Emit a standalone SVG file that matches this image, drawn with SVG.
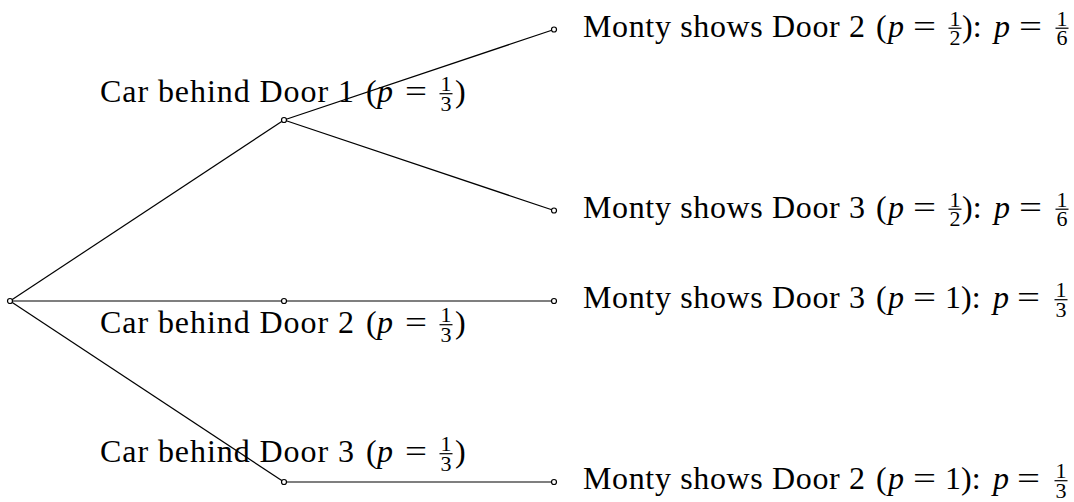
<svg xmlns="http://www.w3.org/2000/svg" width="1074" height="502" viewBox="0 0 1074 502">
<style>
text{font-family:"Liberation Serif","Times New Roman",serif;fill:#000}
.t{font-size:32px}
.i{font-size:32px;font-style:italic}
.s{font-size:22px;text-anchor:middle}
.bar{stroke:#000;stroke-width:1.2}
.edge{stroke:#000;stroke-width:1.2;fill:none}
.dot{fill:#fff;stroke:#000;stroke-width:1.2}
</style>
<rect width="1074" height="502" fill="#fff"/>
<g id="connectors">
<line class="edge" x1="10" y1="301" x2="284" y2="120"/>
<line class="edge" x1="10" y1="301" x2="284" y2="301"/>
<line class="edge" x1="10" y1="301" x2="284" y2="482"/>
<line class="edge" x1="284" y1="120" x2="554" y2="29.5"/>
<line class="edge" x1="284" y1="120" x2="554" y2="210.5"/>
<line class="edge" x1="284" y1="301" x2="554" y2="301"/>
<line class="edge" x1="284" y1="482" x2="554" y2="482"/>
</g>
<g id="root"><circle class="dot" cx="10" cy="301" r="2.5"/></g>
<g id="door1">
<circle class="dot" cx="284" cy="120" r="2.5"/>
<text class="t" x="100" y="102" textLength="254">Car behind Door 1</text>
<text class="t" x="366" y="102">(</text><text class="i" x="377" y="102">p</text>
<text class="t" x="405" y="102" textLength="22" lengthAdjust="spacingAndGlyphs">=</text>
<text class="s" x="446" y="91">1</text><line class="bar" x1="439.5" x2="452.5" y1="93.7" y2="93.7"/><text class="s" x="446" y="110.5">3</text>
<text class="t" x="455" y="102">)</text>
</g>
<g id="door2">
<circle class="dot" cx="284" cy="301" r="2.5"/>
<text class="t" x="100" y="333" textLength="254">Car behind Door 2</text>
<text class="t" x="366" y="333">(</text><text class="i" x="377" y="333">p</text>
<text class="t" x="405" y="333" textLength="22" lengthAdjust="spacingAndGlyphs">=</text>
<text class="s" x="446" y="322">1</text><line class="bar" x1="439.5" x2="452.5" y1="324.7" y2="324.7"/><text class="s" x="446" y="341.5">3</text>
<text class="t" x="455" y="333">)</text>
</g>
<g id="door3">
<circle class="dot" cx="284" cy="482" r="2.5"/>
<text class="t" x="100" y="462" textLength="254">Car behind Door 3</text>
<text class="t" x="366" y="462">(</text><text class="i" x="377" y="462">p</text>
<text class="t" x="405" y="462" textLength="22" lengthAdjust="spacingAndGlyphs">=</text>
<text class="s" x="446" y="451">1</text><line class="bar" x1="439.5" x2="452.5" y1="453.7" y2="453.7"/><text class="s" x="446" y="470.5">3</text>
<text class="t" x="455" y="462">)</text>
</g>
<g id="leaf1">
<circle class="dot" cx="554" cy="29.5" r="2.5"/>
<text class="t" x="583" y="36.5" textLength="282">Monty shows Door 2</text>
<text class="t" x="876" y="36.5">(</text><text class="i" x="888" y="36.5">p</text>
<text class="t" x="913" y="36.5" textLength="23" lengthAdjust="spacingAndGlyphs">=</text>
<text class="s" x="955" y="25.5">1</text><line class="bar" x1="948.5" x2="961.5" y1="28.2" y2="28.2"/><text class="s" x="955" y="45">2</text>
<text class="t" x="962" y="36.5">):</text>
<text class="i" x="994" y="36.5">p</text>
<text class="t" x="1019" y="36.5" textLength="23" lengthAdjust="spacingAndGlyphs">=</text>
<text class="s" x="1062" y="25.5">1</text><line class="bar" x1="1055.5" x2="1068.5" y1="28.2" y2="28.2"/><text class="s" x="1062" y="45">6</text>
</g>
<g id="leaf2">
<circle class="dot" cx="554" cy="210.5" r="2.5"/>
<text class="t" x="583" y="217.5" textLength="282">Monty shows Door 3</text>
<text class="t" x="876" y="217.5">(</text><text class="i" x="888" y="217.5">p</text>
<text class="t" x="913" y="217.5" textLength="23" lengthAdjust="spacingAndGlyphs">=</text>
<text class="s" x="955" y="206.5">1</text><line class="bar" x1="948.5" x2="961.5" y1="209.2" y2="209.2"/><text class="s" x="955" y="226">2</text>
<text class="t" x="962" y="217.5">):</text>
<text class="i" x="994" y="217.5">p</text>
<text class="t" x="1019" y="217.5" textLength="23" lengthAdjust="spacingAndGlyphs">=</text>
<text class="s" x="1062" y="206.5">1</text><line class="bar" x1="1055.5" x2="1068.5" y1="209.2" y2="209.2"/><text class="s" x="1062" y="226">6</text>
</g>
<g id="leaf3">
<circle class="dot" cx="554" cy="301" r="2.5"/>
<text class="t" x="583" y="308" textLength="282">Monty shows Door 3</text>
<text class="t" x="876" y="308">(</text><text class="i" x="888" y="308">p</text>
<text class="t" x="913" y="308" textLength="23" lengthAdjust="spacingAndGlyphs">=</text>
<text class="t" x="945" y="308">1):</text>
<text class="i" x="993" y="308">p</text>
<text class="t" x="1017" y="308" textLength="23" lengthAdjust="spacingAndGlyphs">=</text>
<text class="s" x="1061" y="297">1</text><line class="bar" x1="1054.5" x2="1067.5" y1="299.7" y2="299.7"/><text class="s" x="1061" y="316.5">3</text>
</g>
<g id="leaf4">
<circle class="dot" cx="554" cy="482" r="2.5"/>
<text class="t" x="583" y="489" textLength="282">Monty shows Door 2</text>
<text class="t" x="876" y="489">(</text><text class="i" x="888" y="489">p</text>
<text class="t" x="913" y="489" textLength="23" lengthAdjust="spacingAndGlyphs">=</text>
<text class="t" x="945" y="489">1):</text>
<text class="i" x="993" y="489">p</text>
<text class="t" x="1017" y="489" textLength="23" lengthAdjust="spacingAndGlyphs">=</text>
<text class="s" x="1061" y="478">1</text><line class="bar" x1="1054.5" x2="1067.5" y1="480.7" y2="480.7"/><text class="s" x="1061" y="497.5">3</text>
</g>
</svg>
